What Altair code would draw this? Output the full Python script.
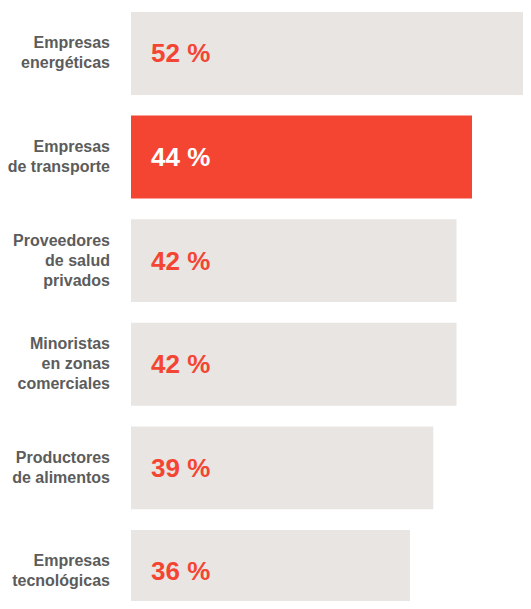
import altair as alt
import pandas as pd

categories = [
    "Empresas|energéticas",
    "Empresas|de transporte",
    "Proveedores|de salud|privados",
    "Minoristas|en zonas|comerciales",
    "Productores|de alimentos",
    "Empresas|tecnológicas",
]
values = [52, 44, 42, 42, 39, 36]
highlight = [False, True, False, False, False, False]

df = pd.DataFrame({
    "cat": categories,
    "value": values,
    "hl": highlight,
    "pos": list(range(len(categories))),
    "label": [f"{v} %" for v in values],
    "nlines": [c.count("|") + 1 for c in categories],
})

FONT = "Liberation Sans"
RED = "#F44533"
GREY = "#E8E5E2"
STEP = 103.6
H = 593
W = 392

yscale = alt.Scale(domain=[0, H / STEP], reverse=True, nice=False, zero=False)
xscale = alt.Scale(domain=[0, W / 7.75], nice=False, zero=True)

base = alt.Chart(df).transform_calculate(
    top="datum.pos + 0.0386",
    bot="datum.pos + 0.0386 + 0.80",
    mid="datum.pos + 0.0386 + 0.40",
)

bars = base.mark_bar(clip=True).encode(
    y=alt.Y("top:Q", scale=yscale, axis=None),
    y2="bot:Q",
    x=alt.X("value:Q", scale=xscale, axis=None),
    x2=alt.datum(0),
    color=alt.Color(
        "hl:N",
        scale=alt.Scale(domain=[False, True], range=[GREY, RED]),
        legend=None,
    ),
)

values_text = base.mark_text(
    align="left", baseline="middle", dx=20, dy=1,
    font=FONT, fontSize=26, fontWeight="bold",
).encode(
    y=alt.Y("mid:Q", scale=yscale, axis=None),
    x=alt.value(0),
    text="label:N",
    color=alt.Color(
        "hl:N",
        scale=alt.Scale(domain=[False, True], range=[RED, "#FFFFFF"]),
        legend=None,
    ),
)

def cat_labels(n):
    return base.transform_filter(f"datum.nlines == {n}").mark_text(
        align="right", baseline="middle", lineBreak="|", lineHeight=20,
        dy=-(n - 1) * 10,
        font=FONT, fontSize=16, fontWeight="bold", color="#5c5c5c",
    ).encode(
        y=alt.Y("mid:Q", scale=yscale, axis=None),
        x=alt.value(-21),
        text="cat:N",
    )

chart = alt.layer(bars, values_text, cat_labels(2), cat_labels(3)).resolve_scale(
    color="independent"
).properties(
    width=W,
    height=H,
    autosize=alt.AutoSizeParams(type="none"),
    padding={"left": 123, "top": 0, "right": 0, "bottom": 0},
    background="white",
).configure_view(stroke=None)

chart.save("out.html", embed_options={"renderer": "svg", "actions": False})
